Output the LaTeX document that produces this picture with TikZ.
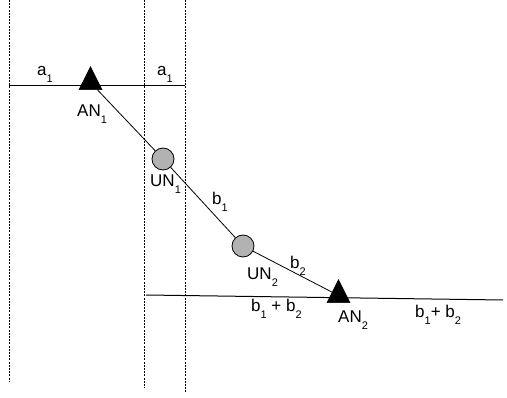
\documentclass[tikz,border=0pt]{standalone}
\usepackage{fontspec}
\setmainfont{Liberation Sans}
\usetikzlibrary{shapes.geometric}
\newcommand{\lowsub}[1]{\raisebox{-7pt}{\fontsize{11}{11}\selectfont #1}}

\begin{document}
\begin{tikzpicture}[x=1pt, y=-1pt,
  lbl/.style={anchor=base west, inner sep=0pt, font=\fontsize{17}{18}\selectfont},
  anode/.style={isosceles triangle, isosceles triangle apex angle=53,
    shape border rotate=90, fill=black, draw=black, inner sep=0pt,
    minimum height=23pt, minimum width=23pt},
  unode/.style={circle, fill=black!30, draw=black, line width=0.8pt,
    minimum size=22pt, inner sep=0pt},
  guide/.style={dash pattern=on 2pt off 1.2pt, line width=1pt},
  link/.style={line width=0.8pt}]
  \useasboundingbox (0,0) rectangle (507,398);

  % Guides
  \draw[guide] (9,0) -- (9,382);
  \draw[guide] (144,0) -- (144,388);
  \draw[guide] (185,0) -- (185,392);

  % Horizontal lines
  \coordinate (top-l) at (9,86);
  \coordinate (top-r) at (185,86);
  \coordinate (bot-l) at (146,295);
  \coordinate (bot-r) at (503,300);
  \draw[line width=1pt] (top-l) -- (top-r);
  \draw[line width=1pt] (bot-l) -- (bot-r);

  % Nodes
  \node[anode] (AN1) at (90.5,82.5) {};
  \node[unode] (UN1) at (163,159) {};
  \node[unode] (UN2) at (243,246) {};
  \node[anode] (AN2) at (338.5,295.5) {};

  \draw[link] (AN1) -- (UN1) -- (UN2) -- (AN2);

  % Labels
  \node[lbl] (a1-l) at (37,76) {a\lowsub{1}};
  \node[lbl] (a1-r) at (157,76) {a\lowsub{1}};
  \node[lbl] (AN1-lbl) at (77,117) {AN\lowsub{1}};
  \node[lbl] (UN1-lbl) at (150,187) {UN\lowsub{1}};
  \node[lbl] (b1) at (212,205) {b\lowsub{1}};
  \node[lbl] (UN2-lbl) at (247,280) {UN\lowsub{2}};
  \node[lbl] (b2) at (290,269) {b\lowsub{2}};
  \node[lbl] (sum-l) at (251,312) {b\lowsub{1} + b\lowsub{2}};
  \node[lbl] (AN2-lbl) at (338,323) {AN\lowsub{2}};
  \node[lbl] (sum-r) at (415,318) {b\lowsub{1}+ b\lowsub{2}};
\end{tikzpicture}
\end{document}
